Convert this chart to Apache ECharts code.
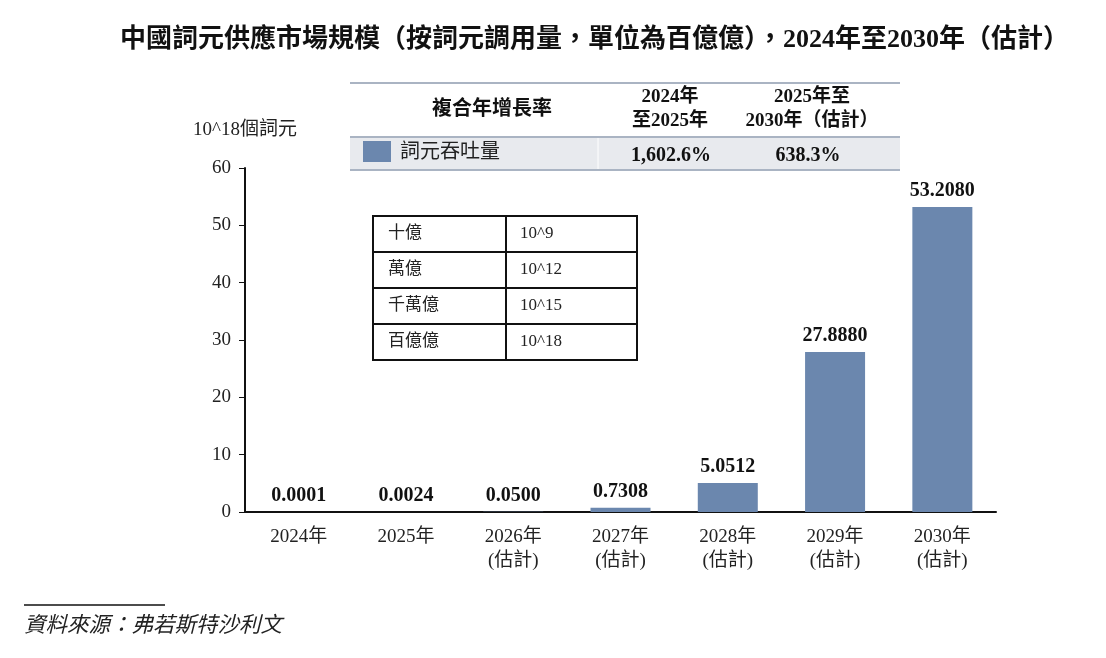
<!DOCTYPE html>
<html><head><meta charset="utf-8">
<script src="https://cdn.jsdelivr.net/npm/echarts@6/dist/echarts.min.js"></script>
<style>html,body{margin:0;padding:0;background:#fff}#c{width:1106px;height:658px}</style>
</head><body><div id="c"></div>
<script>
const categories = ['2024年', '2025年', '2026年\n(估計)', '2027年\n(估計)', '2028年\n(估計)', '2029年\n(估計)', '2030年\n(估計)'];
const values = [0.0001, 0.0024, 0.0500, 0.7308, 5.0512, 27.8880, 53.2080];
const valueLabels = ['0.0001', '0.0024', '0.0500', '0.7308', '5.0512', '27.8880', '53.2080'];
const yTicks = [0, 10, 20, 30, 40, 50, 60];
const cagrHeaders = ['複合年增長率', '2024年\n至2025年', '2025年至\n2030年（估計）'];
const cagrRow = ['詞元吞吐量', '1,602.6%', '638.3%'];
const unitNames = ['十億', '萬億', '千萬億', '百億億'];
const unitPowers = ['10^9', '10^12', '10^15', '10^18'];

const SERIF = '"Liberation Serif","Times New Roman","Noto Sans CJK TC",serif';
const BAR = '#6b87ae';

const chart = echarts.init(document.getElementById('c'));
const g = [];
// CAGR table
g.push({type:'rect', shape:{x:350,y:137,width:550,height:33}, style:{fill:'#e8eaee'}});
g.push({type:'line', shape:{x1:350,y1:83,x2:900,y2:83}, style:{stroke:'#aab4c3',lineWidth:2}});
g.push({type:'line', shape:{x1:350,y1:137,x2:900,y2:137}, style:{stroke:'#aab4c3',lineWidth:2}});
g.push({type:'line', shape:{x1:350,y1:170,x2:900,y2:170}, style:{stroke:'#aab4c3',lineWidth:2}});
g.push({type:'line', shape:{x1:598,y1:138,x2:598,y2:169}, style:{stroke:'#ffffff',lineWidth:1}});
g.push({type:'text', x:492, y:110, style:{text:cagrHeaders[0], font:'bold 20px '+SERIF, fill:'#111', align:'center', verticalAlign:'middle'}});
g.push({type:'text', x:670, y:109, style:{text:cagrHeaders[1], font:'bold 19px '+SERIF, fill:'#111', align:'center', verticalAlign:'middle', lineHeight:24}});
g.push({type:'text', x:812, y:109, style:{text:cagrHeaders[2], font:'bold 19px '+SERIF, fill:'#111', align:'center', verticalAlign:'middle', lineHeight:24}});
g.push({type:'rect', shape:{x:363,y:141,width:28,height:21}, style:{fill:BAR}});
g.push({type:'text', x:400, y:153, style:{text:cagrRow[0], font:'20px '+SERIF, fill:'#222', align:'left', verticalAlign:'middle'}});
g.push({type:'text', x:671, y:156, style:{text:cagrRow[1], font:'bold 20px '+SERIF, fill:'#111', align:'center', verticalAlign:'middle'}});
g.push({type:'text', x:808, y:156, style:{text:cagrRow[2], font:'bold 20px '+SERIF, fill:'#111', align:'center', verticalAlign:'middle'}});
// Unit table
const tx=373, ty=216, tw=264, rh=36, cx=506;
g.push({type:'rect', shape:{x:tx,y:ty,width:tw,height:rh*4}, style:{fill:'none',stroke:'#111',lineWidth:2}});
g.push({type:'line', shape:{x1:cx,y1:ty,x2:cx,y2:ty+rh*4}, style:{stroke:'#111',lineWidth:2}});
for (let i=0;i<unitNames.length;i++){
  if (i>0) g.push({type:'line', shape:{x1:tx,y1:ty+rh*i,x2:tx+tw,y2:ty+rh*i}, style:{stroke:'#111',lineWidth:2}});
  g.push({type:'text', x:388, y:ty+rh*i+rh/2, style:{text:unitNames[i], font:'17px '+SERIF, fill:'#222', align:'left', verticalAlign:'middle'}});
  g.push({type:'text', x:520, y:ty+rh*i+rh/2, style:{text:unitPowers[i], font:'17px '+SERIF, fill:'#222', align:'left', verticalAlign:'middle'}});
}
// Source
g.push({type:'line', shape:{x1:24,y1:605,x2:165,y2:605}, style:{stroke:'#111',lineWidth:1.5}});
g.push({type:'text', x:24, y:626, style:{text:'資料來源：弗若斯特沙利文', font:'italic 21.5px '+SERIF, fill:'#222', align:'left', verticalAlign:'middle'}});

chart.setOption({
  animation:false,
  title:{text:'中國詞元供應市場規模（按詞元調用量，單位為百億億），2024年至2030年（估計）', left:115, top:22,
    textStyle:{fontFamily:SERIF, fontWeight:'bold', fontSize:26, color:'#111'}},
  grid:{left:245, right:110, top:168, bottom:146},
  xAxis:{type:'category', data:categories,
    axisLine:{lineStyle:{color:'#111',width:2}}, axisTick:{show:false},
    axisLabel:{fontFamily:SERIF, fontSize:19, color:'#222', margin:13, lineHeight:24}},
  yAxis:{type:'value', min:0, max:60, interval:10, name:'10^18個詞元', nameLocation:'end', nameGap:28,
    nameTextStyle:{fontFamily:SERIF, fontSize:19, color:'#222', align:'center', padding:[0,0,0,0]},
    axisLine:{show:true, lineStyle:{color:'#111',width:2}},
    axisTick:{show:true, length:6, lineStyle:{color:'#111'}},
    splitLine:{show:false},
    axisLabel:{fontFamily:SERIF, fontSize:19, color:'#222', margin:14,
      formatter:v=>yTicks.includes(v)?String(v):''}},
  series:[{type:'bar', data:values, barWidth:60, itemStyle:{color:BAR},
    label:{show:true, position:'top', distance:6, fontFamily:SERIF, fontWeight:'bold', fontSize:20, color:'#111',
      formatter:p=>valueLabels[p.dataIndex]}}],
  graphic:g
});
</script></body></html>
